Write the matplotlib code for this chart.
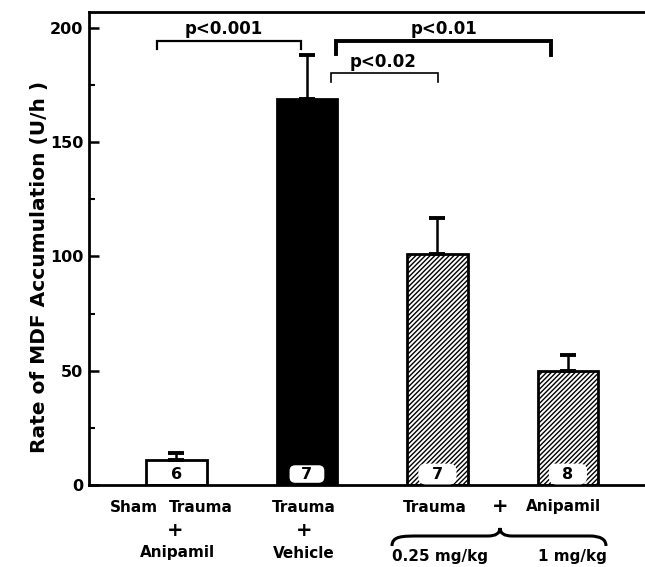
import matplotlib
matplotlib.use("Agg")
import matplotlib.pyplot as plt
from matplotlib.path import Path
from matplotlib.patches import PathPatch, FancyBboxPatch
import numpy as np

plt.rcParams['font.family'] = ['DejaVu Sans']
plt.rcParams['font.weight'] = 'bold'
plt.rcParams['hatch.linewidth'] = 1.0

# ---- data ----
groups = ["Sham Trauma + Anipamil", "Trauma + Vehicle", "Trauma + Anipamil 0.25 mg/kg", "Trauma + Anipamil 1 mg/kg"]
means = [11, 169, 101, 50]
sems = [3, 19, 16, 7]
counts = ["6", "7", "7", "8"]
y_ticks = [0, 50, 100, 150, 200]
y_minor = [25, 75, 125, 175]
p_labels = ["p<0.001", "p<0.01", "p<0.02"]

W, H = 645, 567
fig = plt.figure(figsize=(W / 100, H / 100), dpi=100)
ax = fig.add_axes([89 / W, 1 - 485 / H, 1 - 89 / W + 0.01, (485 - 12) / H])

x = np.arange(len(means))
faces = ["white", "black", "white", "white"]
hatches = [None, None, "///////", "///////"]
bw = 0.465
for xi, m, s, fc, h in zip(x, means, sems, faces, hatches):
    ax.bar(xi, m, width=bw, color=fc, edgecolor="black", linewidth=2.0,
           hatch=h, zorder=2)
    ax.errorbar(xi, m, yerr=[[0], [s]], fmt="none", ecolor="black",
                elinewidth=1.8, capsize=5.5, capthick=2.8, zorder=3)

ax.set_xlim(-0.67, 3.64)
ax.set_ylim(0, 207)

# count boxes inside bars
px_x = 129.0   # px per x unit
px_y = 2.285   # px per y unit
for xi, c in zip(x, counts):
    if xi > 0:
        bwid = 36 / px_x
        box = FancyBboxPatch((xi - bwid / 2, 0.6), bwid, 8.4,
                             boxstyle="round,pad=0,rounding_size=0.05",
                             mutation_aspect=px_x / px_y,
                             fc="white", ec="black" if xi == 1 else "white",
                             lw=1.2, zorder=4)
        ax.add_patch(box)
    ax.text(xi, 4.4, c, ha="center", va="center", fontsize=11.5, zorder=5)

ax.set_yticks(y_ticks)
ax.set_yticks(y_minor, minor=True)
ax.tick_params(axis="y", which="major", direction="in", length=7, width=1.8,
               labelsize=11.5, pad=4)
ax.tick_params(axis="y", which="minor", direction="in", length=4, width=1.5)
ax.tick_params(axis="x", bottom=False, labelbottom=False)
for sp in ["left", "top", "bottom"]:
    ax.spines[sp].set_linewidth(2.0)
ax.spines["right"].set_visible(False)
for lab in ax.get_yticklabels():
    lab.set_fontweight("bold")

fig.text(40 / W, 1 - 267 / H, "Rate of MDF Accumulation (U/h )", rotation=90,
         ha="center", va="center", fontsize=14.5, fontweight="bold")

# significance brackets
def bracket(x0, x1, y, yl, yr, lw, label, tx, ty, fs=12):
    ax.plot([x0, x0, x1, x1], [yl, y, y, yr], color="black", lw=lw,
            solid_joinstyle="miter", clip_on=False, zorder=4)
    ax.text(tx, ty, label, ha="center", va="center", fontsize=fs)

bracket(-0.151, 0.957, 194.3, 190.6, 190.8, 1.6, p_labels[0], 0.36, 199.6)
bracket(1.22, 2.872, 194.3, 188.6, 188.0, 2.8, p_labels[1], 2.05, 199.6)
bracket(1.182, 2.004, 180.3, 176.4, 176.4, 1.2, p_labels[2], 1.585, 185.2)

# x group labels (figure pixel coordinates)
def ftext(px, py, s, fs=11):
    fig.text(px / W, 1 - py / H, s, ha="center", va="center", fontsize=fs,
             fontweight="bold")

ftext(134, 507, "Sham")
ftext(201, 507, "Trauma")
ftext(175, 530, "+", fs=14)
ftext(177, 553, "Anipamil")
ftext(304, 507, "Trauma")
ftext(304, 530, "+", fs=14)
ftext(304, 553, "Vehicle")
ftext(435, 507, "Trauma")
ftext(500, 507, "+", fs=14)
ftext(563, 507, "Anipamil")
ftext(440, 556, "0.25 mg/kg")
ftext(572, 556, "1 mg/kg")

# curly brace
def P(px, py):
    return (px / W, 1 - py / H)

verts = [P(392, 546), P(392, 536), P(402, 536), P(420, 536),
         P(488, 536), P(500, 536), P(500, 528),
         P(500, 536), P(512, 536), P(590, 536),
         P(606, 536), P(606, 546)]
codes = [Path.MOVETO, Path.CURVE4, Path.CURVE4, Path.CURVE4,
         Path.LINETO, Path.CURVE3, Path.CURVE3,
         Path.CURVE3, Path.CURVE3, Path.LINETO,
         Path.CURVE3, Path.CURVE3]
brace = PathPatch(Path(verts, codes), transform=fig.transFigure, fc="none",
                  ec="black", lw=2.2)
fig.patches.append(brace)

fig.savefig("out.png", dpi=100)
